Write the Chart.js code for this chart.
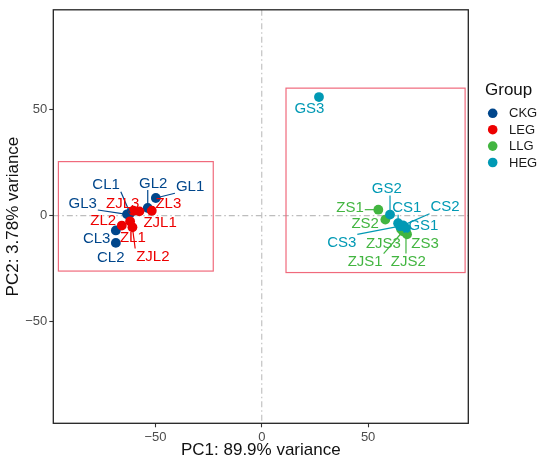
<!DOCTYPE html>
<html>
<head>
<meta charset="utf-8">
<script src="https://cdn.jsdelivr.net/npm/chart.js@4"></script>
<style>
html,body{margin:0;padding:0;background:#fff;}
#wrap{width:550px;height:465px;}
</style>
</head>
<body>
<div id="wrap"><canvas id="c" width="550" height="465"></canvas></div>
<script>
// ---------- data ----------
const groups = ['CKG', 'LEG', 'LLG', 'HEG'];

const ckgNames = ['CL1', 'CL2', 'CL3', 'GL1', 'GL2', 'GL3'];
const ckgX = [-61.9, -68.6, -68.6, -49.8, -53.6, -63.3];
const ckgY = [1.1, -12.9, -7.0, 8.3, 3.6, 0.6];

const legNames = ['ZL1', 'ZL2', 'ZL3', 'ZJL1', 'ZJL2', 'ZJL3'];
const legX = [-61.9, -65.8, -51.7, -57.5, -60.8, -60.4];
const legY = [-2.7, -4.7, 2.3, 2.0, -5.5, 2.3];

const llgNames = ['ZS1', 'ZS2', 'ZS3', 'ZJS1', 'ZJS2', 'ZJS3'];
const llgX = [54.8, 58.1, 68.3, 66.4, 67.8, 65.5];
const llgY = [2.8, -1.9, -8.8, -7.4, -7.8, -6.4];

const hegNames = ['CS1', 'CS2', 'CS3', 'GS1', 'GS2', 'GS3'];
const hegX = [64.1, 66.4, 65.0, 67.8, 60.3, 26.9];
const hegY = [-3.6, -4.6, -5.0, -6.0, 0.5, 56.0];

// repelled label anchors (data units)
const ckgLabX = [-73.2, -71.0, -77.6, -33.7, -51.0, -84.2];
const ckgLabY = [14.8, -19.6, -10.5, 14.1, 15.6, 6.2];
const legLabX = [-60.6, -74.5, -43.9, -47.8, -51.2, -65.4];
const legLabY = [-10.0, -1.9, 5.9, -3.1, -19.1, 6.2];
const llgLabX = [41.5, 48.6, 76.8, 48.6, 68.9, 57.2];
const llgLabY = [3.9, -3.5, -12.9, -21.5, -21.5, -12.9];
const hegLabX = [68.2, 86.2, 37.6, 76.0, 58.8, 22.4];
const hegLabY = [3.9, 4.4, -12.4, -4.2, 13.0, 50.8];

// highlight boxes [x1, x2, y1, y2] in data units
const boxLeft = [-95.6, -22.8, -26.2, 25.5];
const boxRight = [11.4, 95.6, -26.9, 60.2];

const xTicks = [-50, 0, 50];
const yTicks = [-50, 0, 50];
const xTitle = 'PC1: 89.9% variance';
const yTitle = 'PC2: 3.78% variance';

// ---------- styles ----------
const colors = {CKG: '#00468B', LEG: '#ED0000', LLG: '#42B540', HEG: '#0099B4'};
const FONT = '"Liberation Sans", Arial, Helvetica, sans-serif';

const seriesDefs = [
  {g: 'CKG', names: ckgNames, x: ckgX, y: ckgY, lx: ckgLabX, ly: ckgLabY, order: 4},
  {g: 'LEG', names: legNames, x: legX, y: legY, lx: legLabX, ly: legLabY, order: 3},
  {g: 'LLG', names: llgNames, x: llgX, y: llgY, lx: llgLabX, ly: llgLabY, order: 2},
  {g: 'HEG', names: hegNames, x: hegX, y: hegY, lx: hegLabX, ly: hegLabY, order: 1}
];

const datasets = seriesDefs.map(s => ({
  label: s.g,
  data: s.x.map((v, i) => ({x: v, y: s.y[i]})),
  backgroundColor: colors[s.g],
  borderColor: colors[s.g],
  borderWidth: 0,
  pointRadius: 4.9,
  pointHoverRadius: 4.9,
  order: s.order
}));

const fmt = v => (v < 0 ? '\u2212' + Math.abs(v) : String(v));

const decor = {
  id: 'decor',
  beforeDatasetsDraw(chart) {
    const {ctx, chartArea: a, scales: {x, y}} = chart;
    ctx.save();
    ctx.beginPath();
    ctx.rect(a.left, a.top, a.right - a.left, a.bottom - a.top);
    ctx.clip();
    ctx.strokeStyle = '#BDBDBD';
    ctx.lineWidth = 1.1;
    ctx.setLineDash([6, 3, 1.5, 3]);
    const x0 = x.getPixelForValue(0), y0 = y.getPixelForValue(0);
    ctx.beginPath(); ctx.moveTo(x0, a.top); ctx.lineTo(x0, a.bottom); ctx.stroke();
    ctx.beginPath(); ctx.moveTo(a.left, y0); ctx.lineTo(a.right, y0); ctx.stroke();
    ctx.setLineDash([]);
    ctx.strokeStyle = '#F06A7C';
    ctx.lineWidth = 1.2;
    [boxLeft, boxRight].forEach(b => {
      const px1 = x.getPixelForValue(b[0]), px2 = x.getPixelForValue(b[1]);
      const py1 = y.getPixelForValue(b[2]), py2 = y.getPixelForValue(b[3]);
      ctx.strokeRect(px1, py2, px2 - px1, py1 - py2);
    });
    ctx.restore();
  },
  afterDatasetsDraw(chart) {
    const {ctx, chartArea: a, scales: {x, y}} = chart;
    ctx.save();
    ctx.font = '15px ' + FONT;
    ctx.textAlign = 'center';
    ctx.textBaseline = 'middle';
    const items = [];
    seriesDefs.forEach(s => {
      s.names.forEach((n, i) => {
        const px = x.getPixelForValue(s.x[i]), py = y.getPixelForValue(s.y[i]);
        const lx = x.getPixelForValue(s.lx[i]), ly = y.getPixelForValue(s.ly[i]);
        const w = ctx.measureText(n).width;
        const hw = w / 2 + 1, hh = 7.5;
        const cx = Math.min(Math.max(px, lx - hw), lx + hw);
        const cy = Math.min(Math.max(py, ly - hh), ly + hh);
        const d = Math.hypot(cx - px, cy - py);
        items.push({n, px, py, lx, ly, cx, cy, d, c: colors[s.g]});
      });
    });
    items.forEach(it => {
      if (it.d > 7) {
        ctx.strokeStyle = it.c;
        ctx.lineWidth = 1.2;
        ctx.beginPath(); ctx.moveTo(it.px, it.py); ctx.lineTo(it.cx, it.cy); ctx.stroke();
      }
    });
    items.forEach(it => {
      ctx.fillStyle = it.c;
      ctx.fillText(it.n, it.lx, it.ly + 1);
    });
    // panel border
    ctx.strokeStyle = '#222';
    ctx.lineWidth = 1.3;
    ctx.strokeRect(a.left, a.top, a.right - a.left, a.bottom - a.top);
    // legend
    ctx.textAlign = 'left';
    ctx.fillStyle = '#111';
    ctx.font = '17px ' + FONT;
    ctx.fillText('Group', 485, 90);
    ctx.font = '13px ' + FONT;
    groups.forEach((g, i) => {
      const yy = 113.3 + i * 16.4;
      ctx.fillStyle = colors[g];
      ctx.beginPath(); ctx.arc(492.7, yy, 4.8, 0, Math.PI * 2); ctx.fill();
      ctx.fillStyle = '#1a1a1a';
      ctx.fillText(g, 509, yy + 0.5);
    });
    ctx.restore();
  }
};

new Chart(document.getElementById('c'), {
  type: 'scatter',
  data: {datasets},
  options: {
    responsive: false,
    animation: false,
    devicePixelRatio: 1,
    layout: {padding: {left: 0, right: 81.7, top: 7.3, bottom: 0}},
    plugins: {legend: {display: false}, tooltip: {enabled: false}},
    scales: {
      x: {
        type: 'linear', min: -98, max: 97.1,
        afterBuildTicks: s => { s.ticks = xTicks.map(v => ({value: v})); },
        afterFit: s => { s.height = 41.7; },
        border: {display: false},
        grid: {drawOnChartArea: false, drawTicks: true, tickLength: 4, color: '#333', tickWidth: 1.1},
        ticks: {color: '#4D4D4D', font: {family: FONT, size: 13}, padding: 2, maxRotation: 0, callback: v => fmt(v)},
        title: {display: true, text: xTitle, color: '#111', font: {family: FONT, size: 17}, padding: {top: 0, bottom: 4}}
      },
      y: {
        type: 'linear', min: -98.1, max: 97.2,
        afterBuildTicks: s => { s.ticks = yTicks.map(v => ({value: v})); },
        afterFit: s => { s.width = 53.3; },
        border: {display: false},
        grid: {drawOnChartArea: false, drawTicks: true, tickLength: 4, color: '#333', tickWidth: 1.1},
        ticks: {color: '#4D4D4D', font: {family: FONT, size: 13}, padding: 2, callback: v => fmt(v)},
        title: {display: true, text: yTitle, color: '#111', font: {family: FONT, size: 17}, padding: {top: 3, bottom: 0}}
      }
    }
  },
  plugins: [decor]
});
</script>
</body>
</html>
